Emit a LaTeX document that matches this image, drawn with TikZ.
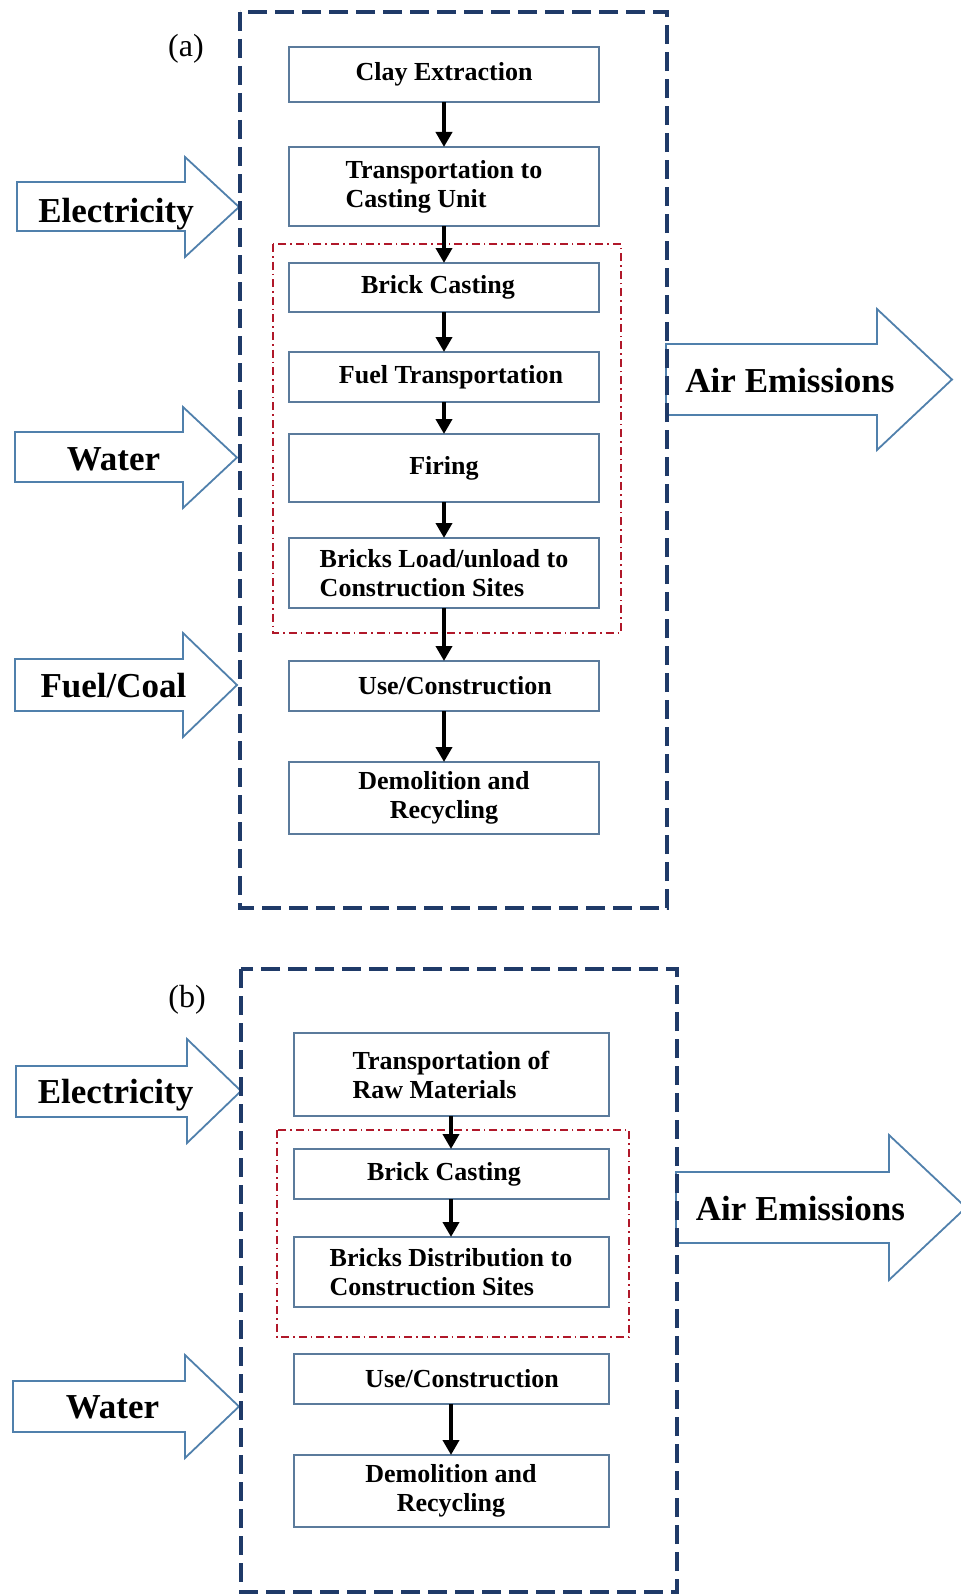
\documentclass[tikz,border=0pt]{standalone}
\usepackage{fontspec}
\setmainfont{Liberation Serif}
\usepackage{xcolor}
\usepackage{tikz}
\usetikzlibrary{arrows.meta, positioning}

\definecolor{boxblue}{HTML}{5B7B9C}
\definecolor{flowblue}{HTML}{5080AC}
\definecolor{framenavy}{HTML}{1F3A68}
\definecolor{framered}{HTML}{B0182A}

\begin{document}
\begin{tikzpicture}[x=0.5pt, y=-0.5pt, every node/.style={font=\fontsize{13}{14.5}\selectfont\bfseries},
  stage/.style={draw=boxblue, line width=1pt, rectangle, fill=white, minimum width=155pt, inner sep=2pt, outer sep=0pt},
  stageb/.style={stage, minimum width=157.5pt},
  flow/.style={-{Triangle[length=7.5pt, width=8pt]}, line width=2pt},
  bigarrow/.style={draw=flowblue, line width=0.9pt, fill=white},
  biglabel/.style={font=\fontsize{17.5}{17.5}\selectfont\bfseries, anchor=base},
  tag/.style={font=\fontsize{16}{16}\selectfont},
  outerframe/.style={draw=framenavy, line width=1.6pt, dash pattern=on 9.5pt off 4pt},
  innerframe/.style={draw=framered, line width=1pt, dash pattern=on 4pt off 2pt on 0.8pt off 2pt}]
\useasboundingbox (0,0) rectangle (961,1595);

\foreach \xl/\xh/\xt/\ya/\yb/\yc/\yd in {17/185/239/157/182/231/257, 15/183/237/407/432/482/508, 15/183/237/633/659/711/737, 666/877/952/309/344/415/450, 16/187/241/1039/1066/1117/1143, 13/185/239/1355/1381/1432/1458, 676/889/966/1135/1172/1243/1280}
  \draw[bigarrow] (\xl,\yb) -- (\xh,\yb) -- (\xh,\ya) -- (\xt,{(\ya+\yd)/2}) -- (\xh,\yd) -- (\xh,\yc) -- (\xl,\yc) -- cycle;

\draw[outerframe] (240,12) rectangle (667,908);
\draw[innerframe] (273,244) rectangle (621,633);
\draw[outerframe] (241,969) rectangle (677,1592);
\draw[innerframe] (277,1130) rectangle (629,1337);

\node (tagA) [tag] at (186,49) {(a)};
\node (elecA) [biglabel] at (116,222) {Electricity};
\node (waterA) [biglabel] at (113.5,470) {Water};
\node (fuelcoalA) [biglabel] at (113.5,697) {Fuel/Coal};
\node (airA) [biglabel] at (790,392) {Air Emissions};

\node (clayA) [stage, minimum height=27.5pt] at (444,74.5) {Clay Extraction};
\node (castunitA) [stage, below=22.5pt of clayA, minimum height=39.5pt, align=left] {Transportation to\\Casting Unit};
\node (brickA) [stage, below=18.5pt of castunitA, minimum height=24.5pt] {\hspace*{-6pt}Brick Casting};
\node (fueltransA) [stage, below=20pt of brickA, minimum height=25pt] {\hspace*{7pt}Fuel Transportation};
\node (firingA) [stage, below=16pt of fueltransA, minimum height=34pt] {Firing};
\node (loadA) [stage, below=18pt of firingA, minimum height=35pt, align=left] {Bricks Load/unload to\\Construction Sites};
\node (useA) [stage, below=26.5pt of loadA, minimum height=25pt] {\hspace*{11pt}Use/Construction};
\node (demoA) [stage, below=25.5pt of useA, minimum height=36pt, align=center] {Demolition and\\Recycling};

\draw[flow] (clayA) -- (castunitA);
\draw[flow] (castunitA) -- (brickA);
\draw[flow] (brickA) -- (fueltransA);
\draw[flow] (fueltransA) -- (firingA);
\draw[flow] (firingA) -- (loadA);
\draw[flow] (loadA) -- (useA);
\draw[flow] (useA) -- (demoA);

\node (tagB) [tag] at (187,1000) {(b)};
\node (elecB) [biglabel] at (115.5,1103) {Electricity};
\node (waterB) [biglabel] at (112.5,1418) {Water};
\node (airB) [biglabel] at (800.5,1220) {Air Emissions};

\node (rawB) [stageb, minimum height=41.5pt, align=left] at (451,1074.5) {Transportation of\\Raw Materials};
\node (brickB) [stageb, below=16.5pt of rawB, minimum height=25pt] {\hspace*{-7pt}Brick Casting};
\node (distB) [stageb, below=19pt of brickB, minimum height=35pt, align=left] {Bricks Distribution to\\Construction Sites};
\node (useB) [stageb, below=23.5pt of distB, minimum height=25pt] {\hspace*{11pt}Use/Construction};
\node (demoB) [stageb, below=25.5pt of useB, minimum height=36pt, align=center] {Demolition and\\Recycling};

\draw[flow] (rawB) -- (brickB);
\draw[flow] (brickB) -- (distB);
\draw[flow] (useB) -- (demoB);
\end{tikzpicture}
\end{document}
